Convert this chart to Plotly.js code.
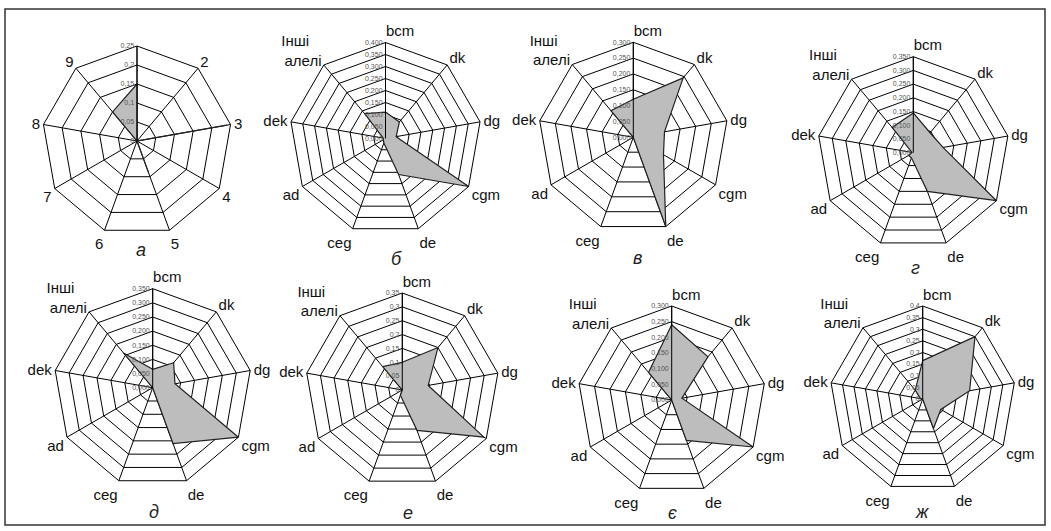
<!DOCTYPE html>
<html>
<head>
<meta charset="utf-8">
<script src="https://cdn.plot.ly/plotly-3.0.1.min.js"></script>
<style>html,body{margin:0;padding:0;background:#fff;}#chart{width:1051px;height:531px;}</style>
</head>
<body>
<div id="chart"></div>
<script>
// ---- data ----
const catsA = ['1','2','3','4','5','6','7','8','9'];
const tickTextA = ['','2','3','4','5','6','7','8','9'];
const cats = ['bcm','dk','dg','cgm','de','ceg','ad','dek','Інші алелі'];
const NB = '\u00A0';
const tickText = [NB.repeat(7) + 'bcm','dk','dg','cgm','de','ceg','ad','dek','Інші' + NB.repeat(3) + '<br>алелі'];

const valsA  = [0.15, 0, 0.24, 0, 0.09, 0, 0, 0, 0.10];
const valsB  = [0.11, 0.09, 0.045, 0.40, 0.16, 0.02, 0.01, 0.01, 0.135];
const valsV  = [0.12, 0.245, 0.10, 0.11, 0.30, 0, 0, 0, 0.11];
const valsG  = [0.145, 0.095, 0.11, 0.35, 0.15, 0.02, 0.02, 0.005, 0.12];
const valsD  = [0.065, 0.115, 0.08, 0.35, 0.21, 0, 0, 0, 0.16];
const valsE  = [0.10, 0.20, 0.095, 0.34, 0.155, 0.02, 0, 0, 0.11];
const valsYe = [0.24, 0.18, 0.033, 0.30, 0.137, 0, 0, 0, 0.115];
const valsZh = [0.165, 0.35, 0.205, 0.09, 0.135, 0, 0, 0.01, 0.05];

const letters = ['а','б','в','г','д','е','є','ж'];
const maxR  = [0.25, 0.4, 0.3, 0.35, 0.35, 0.35, 0.3, 0.4];
const fmt   = ['', '.3f', '.3f', '.3f', '.3f', '', '.3f', ''];

// ---- layout geometry ----
const W = 1051, H = 531;
const geo = [
  {cx:137,   cy:141,   r:95,  lx:141, ly:250},
  {cx:385.5, cy:138.5, r:96,  lx:396, ly:259},
  {cx:633.3, cy:137.3, r:95,  lx:637, ly:258},
  {cx:913.3, cy:152.7, r:96,  lx:915, ly:268},
  {cx:152.7, cy:387.7, r:99,  lx:154, ly:512},
  {cx:402.3, cy:390,   r:97,  lx:408, ly:513},
  {cx:671.7, cy:400,   r:94,  lx:672, ly:513},
  {cx:922.7, cy:399,   r:93,  lx:922, ly:512}
];
const series = [valsA, valsB, valsV, valsG, valsD, valsE, valsYe, valsZh];

const traces = [];
const layout = {
  width: W, height: H,
  margin: {l:0, r:0, t:0, b:0},
  paper_bgcolor: '#fff',
  showlegend: false,
  separators: ', ',
  font: {family: 'Liberation Sans, Arial, sans-serif', color: '#111'},
  annotations: [],
  shapes: [{
    type: 'rect', xref: 'paper', yref: 'paper',
    x0: 5/W, x1: 1045/W, y0: 1-525/H, y1: 1-9/H,
    line: {color: '#333', width: 1.5}
  }]
};

series.forEach((v, i) => {
  const key = i === 0 ? 'polar' : 'polar' + (i+1);
  const c = i === 0 ? catsA : cats;
  const tt = i === 0 ? tickTextA : tickText;
  traces.push({
    type: 'scatterpolar',
    subplot: key,
    r: v.concat([v[0]]),
    theta: c.concat([c[0]]),
    mode: 'lines',
    fill: 'toself',
    fillcolor: '#bdbdbd',
    line: {color: '#222', width: 1.2},
    hoverinfo: 'skip'
  });
  const g = geo[i];
  layout[key] = {
    domain: {
      x: [(g.cx - g.r)/W, (g.cx + g.r)/W],
      y: [1 - (g.cy + g.r)/H, 1 - (g.cy - g.r)/H]
    },
    gridshape: 'linear',
    bgcolor: '#fff',
    radialaxis: {
      range: [0, maxR[i]],
      dtick: 0.05,
      tickformat: fmt[i],
      angle: 90,
      tickangle: 90,
      side: 'counterclockwise',
      showline: true,
      linecolor: '#000',
      linewidth: 1,
      gridcolor: '#000',
      gridwidth: 1,
      ticks: '',
      tickfont: {size: 7, color: '#555'}
    },
    angularaxis: {
      type: 'category',
      categoryarray: c,
      tickmode: 'array',
      tickvals: c,
      ticktext: tt,
      rotation: 90,
      direction: 'clockwise',
      showline: true,
      linecolor: '#000',
      linewidth: 1,
      gridcolor: '#000',
      gridwidth: 1,
      ticks: '',
      tickfont: {size: 15, color: '#111'}
    }
  };
  layout.annotations.push({
    xref: 'paper', yref: 'paper',
    x: g.lx / W, y: 1 - g.ly / H,
    xanchor: 'center', yanchor: 'middle',
    text: '<i>' + letters[i] + '</i>',
    showarrow: false,
    font: {size: 18, color: '#222'}
  });
});

Plotly.newPlot('chart', traces, layout, {staticPlot: true});
</script>
</body>
</html>
